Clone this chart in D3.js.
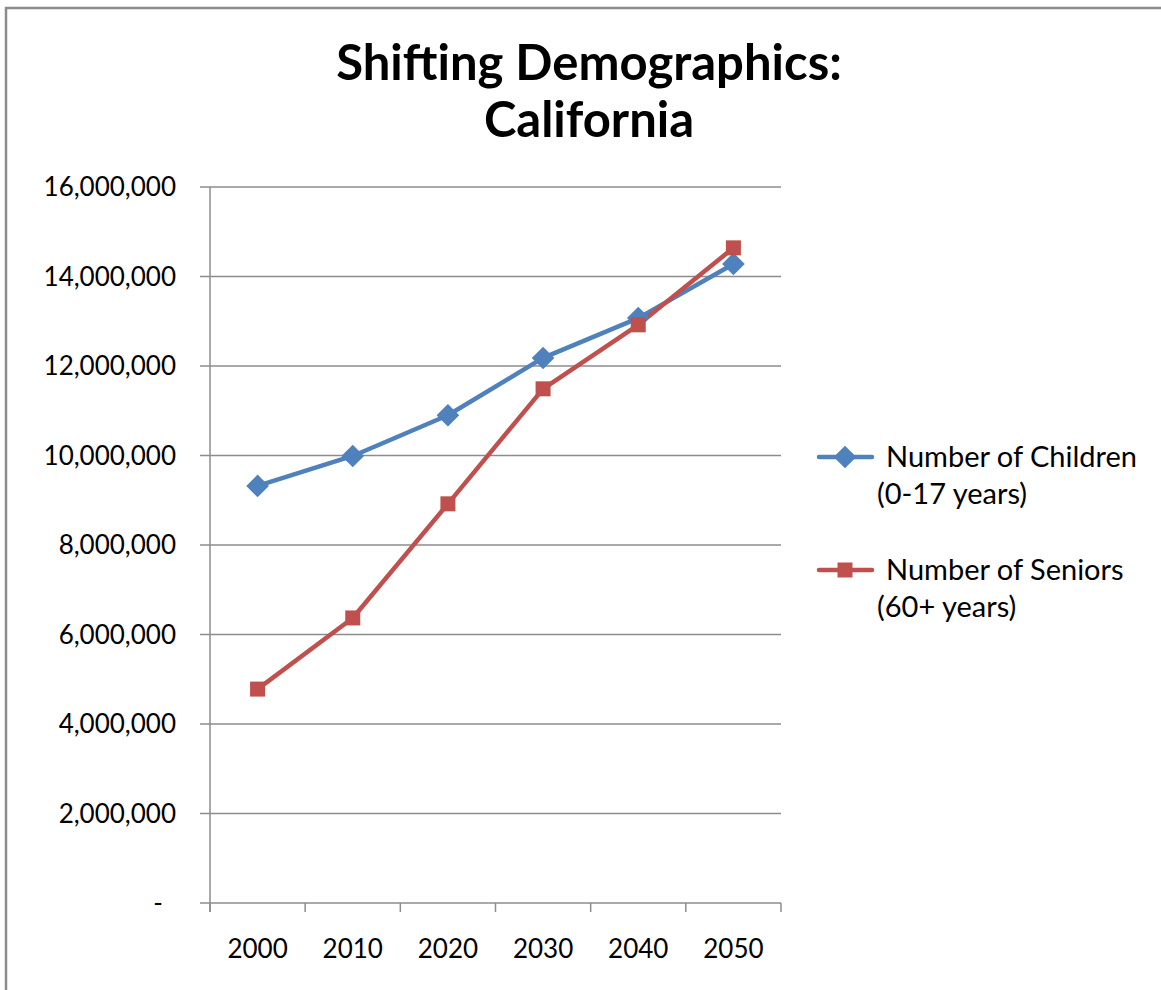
<!DOCTYPE html>
<html><head><meta charset="utf-8">
<script src="https://cdn.jsdelivr.net/npm/d3@7"></script>
<style>body{margin:0;background:#fff}svg{display:block}text{font-family:Lato,"Open Sans",sans-serif}</style>
</head><body>
<svg id="c" width="1161" height="990"></svg>
<script>
const years = ["2000","2010","2020","2030","2040","2050"];
const children = [9320000, 9990000, 10900000, 12180000, 13070000, 14280000];
const seniors = [4780000, 6370000, 8920000, 11490000, 12920000, 14640000];
const yTicks = [0,2000000,4000000,6000000,8000000,10000000,12000000,14000000,16000000];
const seriesNames = [["Number of Children","(0-17 years)"],["Number of Seniors","(60+ years)"]];
const colors = ["#4F81BD","#C0504D"];

const svg = d3.select("#c");
svg.append("rect").attr("x",6).attr("y",8).attr("width",1200).attr("height",1100)
  .attr("fill","#fff").attr("stroke","#8c8c8c").attr("stroke-width",2.5);

const L=210,R=781,T=187,B=903;
const x = d3.scaleBand().domain(years).range([L,R]);
const y = d3.scaleLinear().domain([0,16000000]).range([B,T]);

svg.append("g").selectAll("line").data(yTicks).join("line")
  .attr("x1",L-10).attr("x2",R).attr("y1",d=>y(d)).attr("y2",d=>y(d))
  .attr("stroke","#8c8c8c").attr("stroke-width",1.5);
svg.append("line").attr("x1",L).attr("x2",L).attr("y1",T).attr("y2",B+9)
  .attr("stroke","#8c8c8c").attr("stroke-width",1.5);
const xt = years.map(d=>x(d)).concat([R]);
svg.append("g").selectAll("line").data(xt).join("line")
  .attr("x1",d=>d).attr("x2",d=>d).attr("y1",B).attr("y2",B+9)
  .attr("stroke","#8c8c8c").attr("stroke-width",1.5);

const fmt = d3.format(",");
svg.append("g").selectAll("text").data(yTicks).join("text")
  .attr("x",d=>d===0?163:176).attr("y",d=>y(d)).attr("dy","0.35em")
  .attr("text-anchor","end").attr("font-size",26).attr("fill","#000")
  .text(d=>d===0?"-":fmt(d));
svg.append("g").selectAll("text").data(years).join("text")
  .attr("x",d=>x(d)+x.bandwidth()/2).attr("y",958)
  .attr("text-anchor","middle").attr("font-size",26).attr("fill","#000").text(d=>d);

svg.append("text").attr("x",589).attr("y",80).attr("text-anchor","middle")
  .attr("font-size",49).attr("font-weight","bold").text("Shifting Demographics:");
svg.append("text").attr("x",589).attr("y",137).attr("text-anchor","middle")
  .attr("font-size",49).attr("font-weight","bold").text("California");

const line = d3.line().x((d,i)=>x(years[i])+x.bandwidth()/2).y(d=>y(d));
[children,seniors].forEach((s,k)=>{
  svg.append("path").datum(s).attr("d",line).attr("fill","none")
    .attr("stroke",colors[k]).attr("stroke-width",4.5).attr("stroke-linejoin","round");
});
function marker(g,k,cx,cy){
  if(k===0){
    g.append("rect").attr("x",-8).attr("y",-8).attr("width",16).attr("height",16)
      .attr("transform",`translate(${cx},${cy}) rotate(45)`).attr("fill",colors[0]);
  } else {
    g.append("rect").attr("x",cx-7.5).attr("y",cy-7.5).attr("width",15).attr("height",15).attr("fill",colors[1]);
  }
}
[children,seniors].forEach((s,k)=>{
  const g=svg.append("g");
  s.forEach((v,i)=>marker(g,k,x(years[i])+x.bandwidth()/2,y(v)));
});

const ly=[457,570];
seriesNames.forEach((n,k)=>{
  const g=svg.append("g");
  g.append("line").attr("x1",819).attr("x2",872).attr("y1",ly[k]).attr("y2",ly[k])
    .attr("stroke",colors[k]).attr("stroke-width",4.5).attr("stroke-linecap","round");
  marker(g,k,845,ly[k]);
  g.append("text").attr("x",886).attr("y",ly[k]+10).attr("font-size",29).text(n[0]);
  g.append("text").attr("x",877).attr("y",ly[k]+47).attr("font-size",29).text(n[1]);
});
</script>
</body></html>
